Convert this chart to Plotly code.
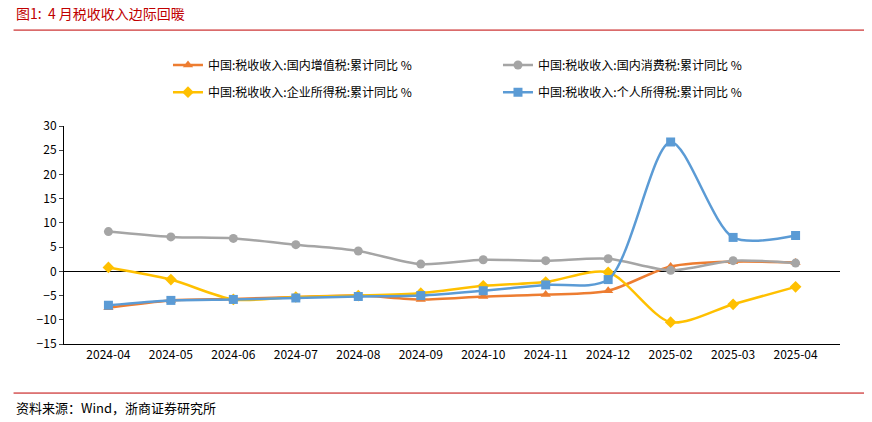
import plotly.graph_objects as go

months = ["2024-04", "2024-05", "2024-06", "2024-07", "2024-08", "2024-09",
          "2024-10", "2024-11", "2024-12", "2025-02", "2025-03", "2025-04"]
vat = [-7.5, -6.0, -5.7, -5.3, -5.0, -5.8, -5.2, -4.8, -4.0, 1.0, 2.0, 1.8]
consumption = [8.2, 7.1, 6.8, 5.5, 4.2, 1.5, 2.4, 2.2, 2.6, 0.2, 2.2, 1.7]
corporate = [0.8, -1.7, -5.8, -5.3, -5.0, -4.5, -3.0, -2.2, -0.2, -10.5, -6.8, -3.2]
personal = [-7.0, -6.0, -5.8, -5.5, -5.2, -5.0, -4.0, -2.8, -1.7, 26.7, 7.0, 7.4]

series = [
    ("中国:税收收入:国内增值税:累计同比 %", vat, "#ED7D31", "triangle-up", "legend"),
    ("中国:税收收入:国内消费税:累计同比 %", consumption, "#A5A5A5", "circle", "legend"),
    ("中国:税收收入:企业所得税:累计同比 %", corporate, "#FFC000", "diamond", "legend2"),
    ("中国:税收收入:个人所得税:累计同比 %", personal, "#5B9BD5", "square", "legend2"),
]

fig = go.Figure()
for name, vals, color, sym, leg in series:
    fig.add_trace(go.Scatter(
        x=months, y=vals, name=name, mode="lines+markers", legend=leg,
        line=dict(color=color, width=2.5, shape="spline", smoothing=0.8),
        marker=dict(symbol=sym, size=9, color=color),
    ))

leg_common = dict(orientation="h", x=0.134, xanchor="left", yanchor="middle",
                  entrywidth=285, font=dict(size=12))

fig.update_layout(
    width=872, height=422,
    margin=dict(l=56, r=40, t=118, b=86),
    plot_bgcolor="white", paper_bgcolor="white",
    font=dict(family="Noto Sans CJK SC", size=12, color="#000"),
    showlegend=True,
    legend=dict(y=1.28, **leg_common),
    legend2=dict(y=1.155, **leg_common),
    xaxis=dict(type="category", showgrid=False, showline=True, linecolor="#000",
               ticks="", tickfont=dict(size=12)),
    yaxis=dict(range=[-15, 30], dtick=5, showgrid=False, showline=True,
               linecolor="#000", ticks="outside", ticklen=4, zeroline=True,
               zerolinecolor="#000", zerolinewidth=1),
    shapes=[
        dict(type="line", xref="paper", yref="paper", x0=-0.065, x1=1.045,
             y0=1.44, y1=1.44, line=dict(color="#C00000", width=1)),
        dict(type="line", xref="paper", yref="paper", x0=-0.065, x1=1.045,
             y0=-0.225, y1=-0.225, line=dict(color="#C00000", width=1)),
    ],
    annotations=[
        dict(text="图1:  4 月税收收入边际回暖", xref="paper", yref="paper",
             x=-0.065, y=1.52, xanchor="left", yanchor="middle", showarrow=False,
             font=dict(size=14, color="#C00000")),
        dict(text="资料来源：Wind，浙商证券研究所", xref="paper", yref="paper",
             x=-0.065, y=-0.29, xanchor="left", yanchor="middle", showarrow=False,
             font=dict(size=13)),
    ],
)

fig.write_html("out.html")
